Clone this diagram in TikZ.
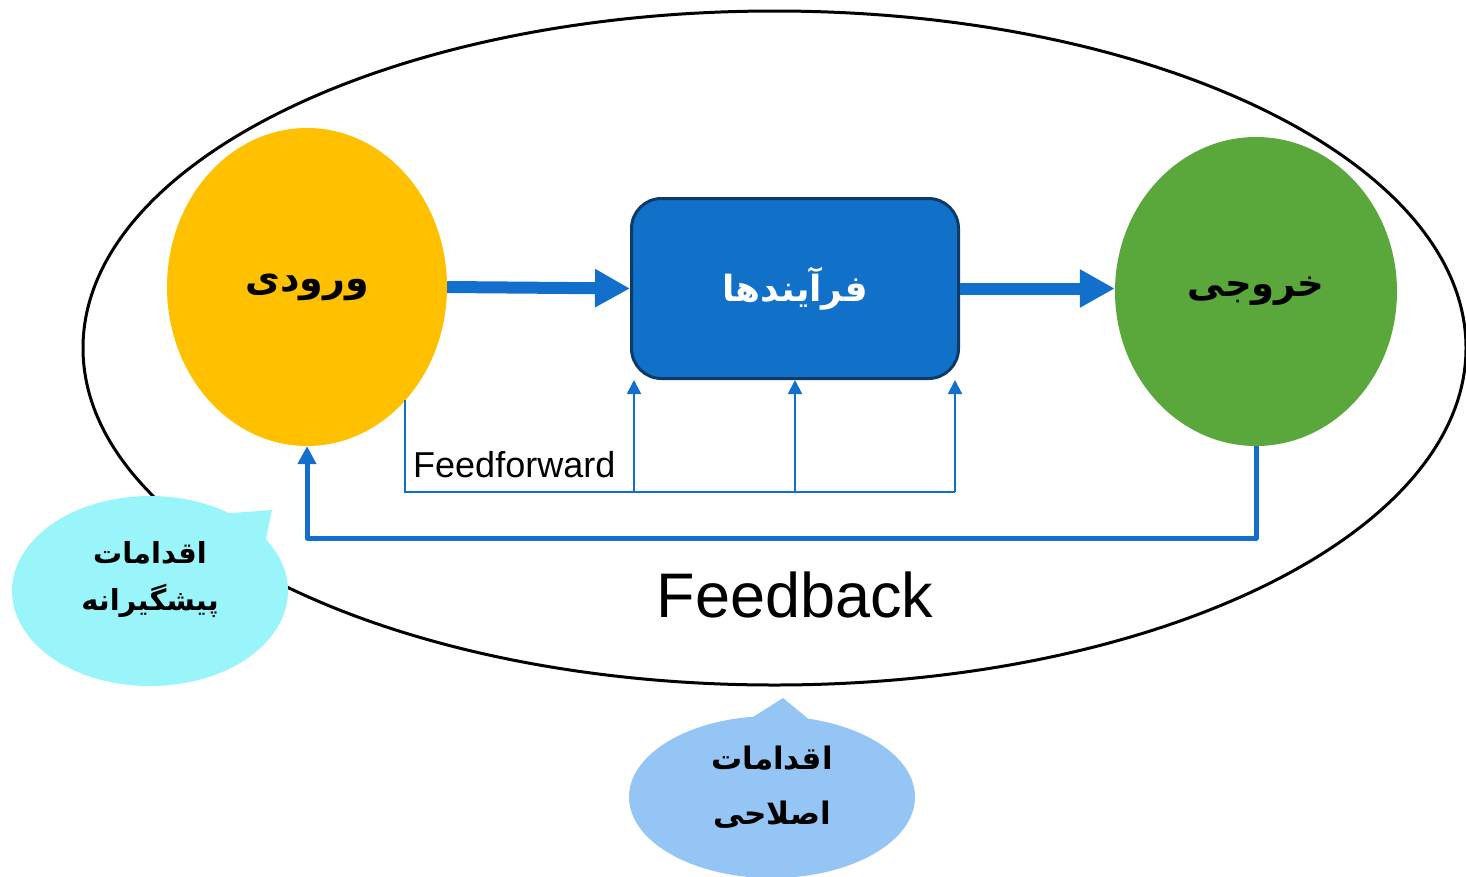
\documentclass[tikz,border=0pt]{standalone}
\usepackage{fontspec}
\setmainfont{Liberation Sans}
\newfontfamily\arabicfont[Script=Arabic]{DejaVu Sans}
\TeXXeTstate=1
\usetikzlibrary{shapes.geometric,shapes.callouts,arrows.meta}
\definecolor{inyellow}{HTML}{FFC000}
\definecolor{outgreen}{HTML}{5AA73C}
\definecolor{procblue}{HTML}{1170C8}
\definecolor{procedge}{HTML}{0E3A68}
\definecolor{lineblue}{HTML}{1270CC}
\definecolor{prevcyan}{HTML}{99F5FA}
\definecolor{corrblue}{HTML}{94C5F5}

\begin{document}
\begin{tikzpicture}[x=1pt,y=-1pt,
  blob/.style={ellipse,inner sep=0pt},
  fa/.style={font=\arabicfont\bfseries\fontsize{#1}{#1}\selectfont},
  flow/.style={lineblue,line width=12pt,-{Triangle[length=35pt,width=36pt]}},
  ff/.style={lineblue,line width=2pt},
  fb/.style={lineblue,line width=5pt,line join=round},
  bubble/.style={ellipse callout,inner sep=0pt,callout pointer arc=22}]
\useasboundingbox (0,0) rectangle (1466,876);

% the whole system
\node[blob,draw,line width=3pt,minimum width=1383pt,minimum height=674pt] (system) at (774.5,348) {};

\node[blob,fill=inyellow,minimum width=280pt,minimum height=318pt,fa=38] (input) at (307,287) {\beginR ورودی\endR};
\node[rectangle,rounded corners=30pt,fill=procblue,draw=procedge,line width=3pt,
  minimum width=327pt,minimum height=180pt,text=white,fa=36] (proc) at (795,288.5) {\beginR فرآیندها\endR};
\node[blob,fill=outgreen,minimum width=282pt,minimum height=309pt,fa=37] (output) at (1256,291.5) {\beginR خروجی\endR};

\draw[flow] (input.east) -- (proc.west);
\draw[flow] (proc.east) -- (proc.east -| output.west);

% feedforward
\coordinate (ffstart) at (405,400);
\coordinate (ffbase) at (405,492);
\coordinate (ffa) at ([xshift=4pt]proc.south west);
\coordinate (ffb) at (proc.south);
\coordinate (ffc) at ([xshift=-5pt]proc.south east);
\draw[ff] (ffstart) -- (ffbase) -- (ffbase -| ffc);
\foreach \c in {ffa,ffb,ffc}
  \draw[ff,-{Triangle[length=14pt,width=14pt]}] (ffbase -| \c) -- (\c);
\node[anchor=base west,inner sep=0pt,font=\fontsize{36}{40}\selectfont] (fflabel) at (413,477) {Feedforward};

% feedback
\draw[fb,-{Triangle[length=18pt,width=18pt]}] (output.south) -- (output.south |- 0,538) -| (input.south);
\node[anchor=base,inner sep=0pt,font=\fontsize{63}{70}\selectfont] (fblabel) at (795,617) {Feedback};

% callouts
\node[bubble,fill=prevcyan,minimum width=276pt,minimum height=190pt,
  callout absolute pointer={(272,510)}] (prevent) at (150,591) {};
\node[align=center,fa=29] (preventtext) at (150,580)
  {\beginR اقدامات\endR\\[18pt]\beginR پیشگیرانه\endR};
\node[bubble,fill=corrblue,minimum width=286pt,minimum height=162pt,
  callout absolute pointer={(783,698)}] (correct) at (772,797) {};
\node[align=center,fa=31] (correcttext) at (772,787)
  {\beginR اقدامات\endR\\[24pt]\beginR اصلاحی\endR};

\end{tikzpicture}
\end{document}
